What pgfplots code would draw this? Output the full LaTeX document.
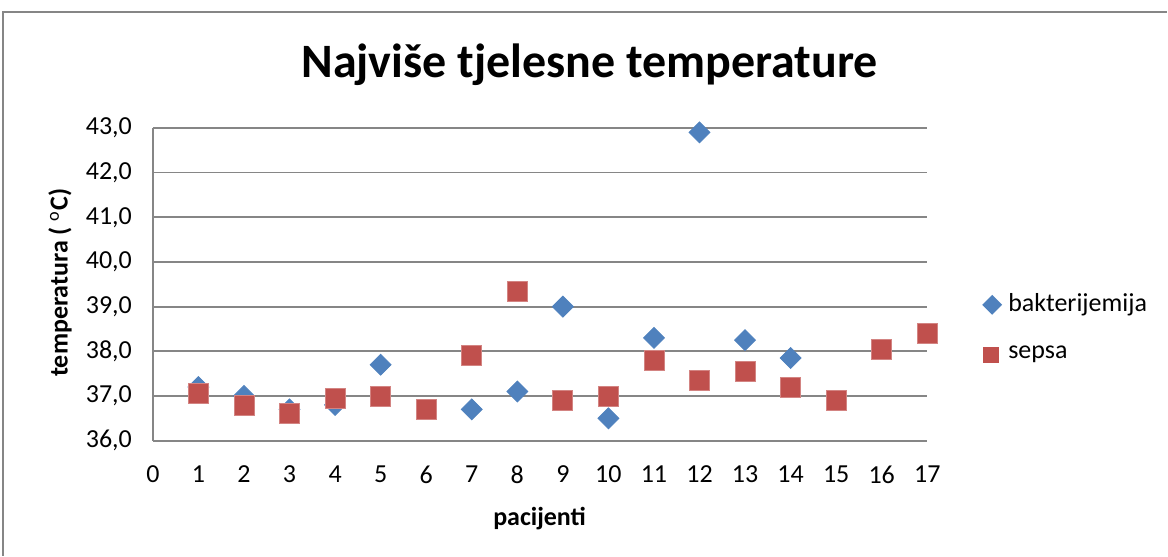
\documentclass[border=0pt]{standalone}
\usepackage{pgfplots}
\pgfplotsset{compat=1.18}
\usepackage{fontspec}
\setmainfont{Carlito}
\definecolor{bblue}{HTML}{4F81BD}
\definecolor{rred}{HTML}{C0504D}
\definecolor{gridc}{HTML}{868686}
\begin{document}
\begin{tikzpicture}[x=0.5pt,y=0.5pt]
\path (0,0) rectangle (1168,556);
\draw[gridc, line width=0.9pt] (3,0) -- (3,544) -- (1168,544);
\begin{axis}[
  at={(76.5pt,57.5pt)}, anchor=south west,
  scale only axis, width=387.5pt, height=156.5pt,
  xmin=0, xmax=17, ymin=36, ymax=43,
  xtick={0,...,17}, ytick={36,37,...,43},
  axis x line*=bottom, axis y line*=left,
  axis line style={gridc, line width=0.9pt},
  major tick length=0pt,
  ymajorgrids, grid style={gridc, line width=0.9pt},
  tick label style={font=\fontsize{13}{15}\selectfont},
  /pgf/number format/assume math mode=true,
  yticklabel style={/pgf/number format/fixed, /pgf/number format/fixed zerofill, /pgf/number format/precision=1, /pgf/number format/use comma, xshift=-7pt},
  xticklabel style={yshift=-9pt},
  clip=false,
]
\addplot[only marks, mark=square*, mark size=3.7pt, mark options={bblue, fill=bblue, rotate=45}] coordinates {
(1,37.2) (2,37.0) (3,36.7) (4,36.8) (5,37.7) (7,36.7) (8,37.1) (9,39.0) (10,36.5) (11,38.3) (12,42.9) (13,38.25) (14,37.85)
};
\addplot[only marks, mark=square*, mark size=5pt, mark options={draw=rred!70!white, fill=rred, line width=0.4pt}] coordinates {
(1,37.05) (2,36.8) (3,36.6) (4,36.95) (5,37.0) (6,36.7) (7,37.9) (8,39.35) (9,36.9) (10,37.0) (11,37.8) (12,37.35) (13,37.55) (14,37.2) (15,36.9) (16,38.05) (17,38.4)
};
\end{axis}
\node[font=\fontsize{24}{28}\bfseries] at (590,491) {Najviše tjelesne temperature};
\node[font=\fontsize{13}{15}\bfseries, rotate=90] at (60,273) {temperatura ( $^{\mathrm{o}}$C)};
\node[font=\fontsize{13}{15}\bfseries] at (540,37) {pacijenti};
\fill[bblue] (993,261) -- (1003,251) -- (993,241) -- (983,251) -- cycle;
\node[anchor=west, font=\fontsize{13}{15}\selectfont] at (1002,251) {bakterijemija};
\fill[rred] (984,193) rectangle (1000,209);
\node[anchor=west, font=\fontsize{13}{15}\selectfont] at (1002,201) {sepsa};
\end{tikzpicture}
\end{document}
